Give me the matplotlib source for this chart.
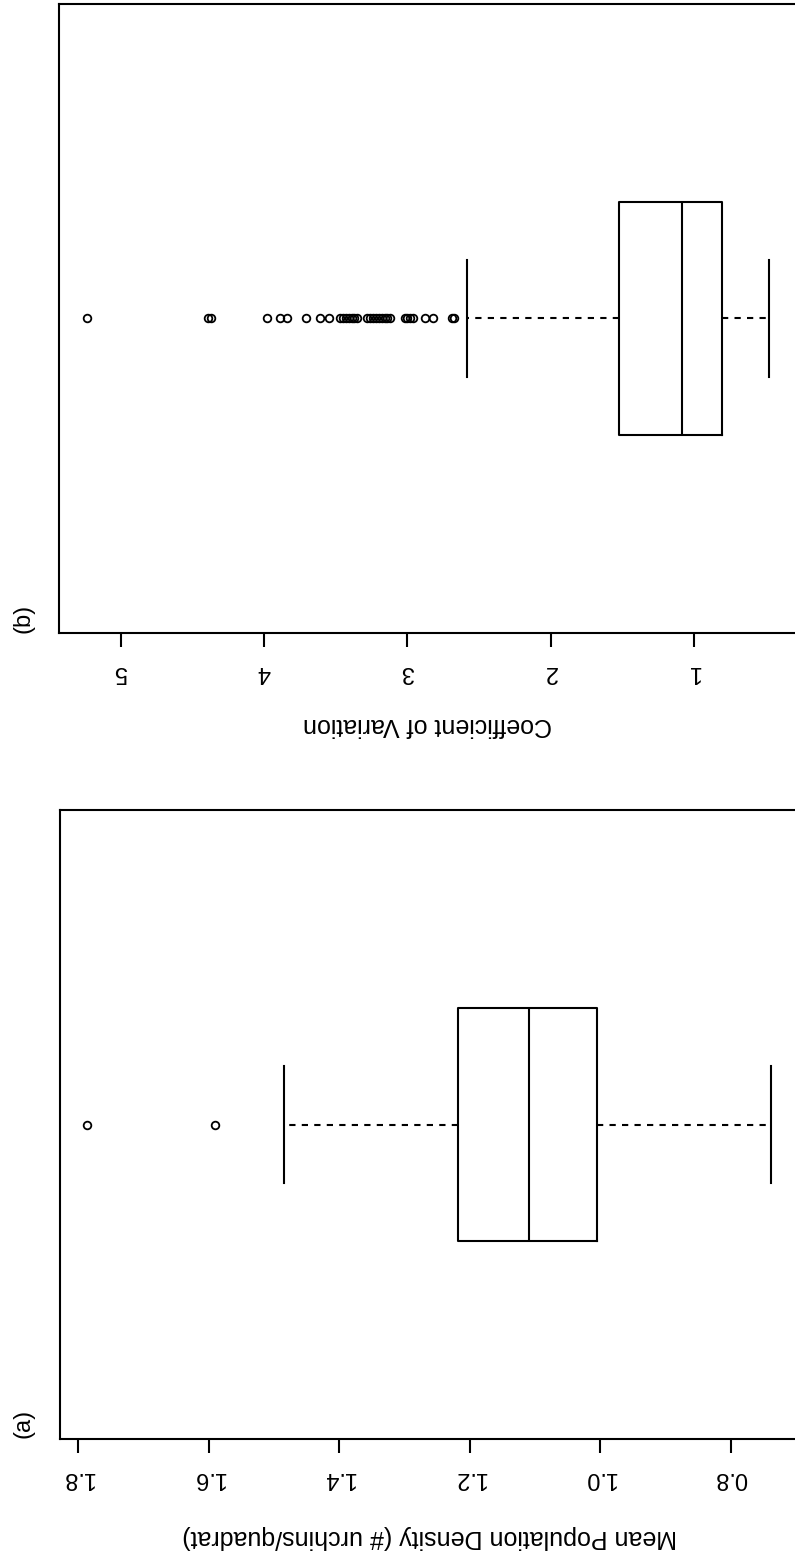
import matplotlib

matplotlib.use("Agg")

import matplotlib.pyplot as plt

plt.rcParams["font.family"] = ["Liberation Sans", "DejaVu Sans"]

# Panel (a): mean population density, summary of the boxplot
density_q1 = 1.005
density_median = 1.109
density_q3 = 1.218
density_whisker_low = 0.738
density_whisker_high = 1.485
density_outliers = [1.590, 1.786]
density_ticks = [0.8, 1.0, 1.2, 1.4, 1.6, 1.8]
density_ticklabels = ["0.8", "1.0", "1.2", "1.4", "1.6", "1.8"]

# Panel (b): coefficient of variation
cv_q1 = 0.804
cv_median = 1.083
cv_q3 = 1.523
cv_whisker_low = 0.479
cv_whisker_high = 2.581
cv_outliers = [
    5.235, 4.39, 4.37, 3.983, 3.890, 3.844, 3.711, 3.611, 3.546,
    3.47, 3.45, 3.43, 3.41, 3.39, 3.37, 3.355,
    3.28, 3.26, 3.24, 3.22, 3.20, 3.18, 3.16, 3.14, 3.125,
    3.02, 3.00, 2.98, 2.962, 2.879, 2.823, 2.69, 2.678,
]
cv_ticks = [1, 2, 3, 4, 5]
cv_ticklabels = ["1", "2", "3", "4", "5"]

W, H = 795, 1557
DPI = 100
LW = 1.5
FS = 17


def px_box(left, top, right, bottom):
    return [left / W, 1 - bottom / H, (right - left) / W, (bottom - top) / H]


def draw_panel(ax, stats, xlim, ticks, ticklabels):
    ax.bxp(
        [stats],
        positions=[1],
        widths=0.37,
        capwidths=0.185,
        orientation="horizontal",
        manage_ticks=False,
        boxprops=dict(color="black", linewidth=LW),
        medianprops=dict(color="black", linewidth=LW),
        whiskerprops=dict(color="black", linewidth=LW, linestyle=(0, (3, 3))),
        capprops=dict(color="black", linewidth=LW),
        flierprops=dict(marker="o", markersize=5.5, markerfacecolor="none",
                        markeredgecolor="black", markeredgewidth=1.3),
    )
    ax.set_xlim(*xlim)
    ax.set_ylim(0.5, 1.5)
    ax.set_yticks([])
    ax.set_xticks(ticks)
    ax.set_xticklabels(ticklabels)
    ax.tick_params(axis="x", labelrotation=180, length=10, width=LW,
                   pad=10, labelsize=FS, color="black")
    for spine in ax.spines.values():
        spine.set_linewidth(LW)


fig = plt.figure(figsize=(W / DPI, H / DPI), dpi=DPI)

ax_a = fig.add_axes(px_box(60, 810, 800, 1439))
draw_panel(
    ax_a,
    dict(med=density_median, q1=density_q1, q3=density_q3,
         whislo=density_whisker_low, whishi=density_whisker_high,
         fliers=density_outliers),
    (1.8276, 0.6935),
    density_ticks,
    density_ticklabels,
)

ax_b = fig.add_axes(px_box(59, 4, 800, 633))
draw_panel(
    ax_b,
    dict(med=cv_median, q1=cv_q1, q3=cv_q3,
         whislo=cv_whisker_low, whishi=cv_whisker_high,
         fliers=cv_outliers),
    (5.4328, 0.2597),
    cv_ticks,
    cv_ticklabels,
)

fig.text(430 / W, 1 - 1537 / H, "Mean Population Density (# urchins/quadrat)",
         rotation=180, ha="center", va="center", fontsize=18)
fig.text(303 / W, 1 - 725 / H, "Coefficient of Variation",
         rotation=180, ha="left", va="center", fontsize=18)
fig.text(23 / W, 1 - 1423 / H, "(a)", rotation=90, ha="center", va="center",
         fontsize=FS)
fig.text(23 / W, 1 - 618 / H, "(b)", rotation=90, ha="center", va="center",
         fontsize=FS)

fig.savefig("out.png", dpi=DPI)
